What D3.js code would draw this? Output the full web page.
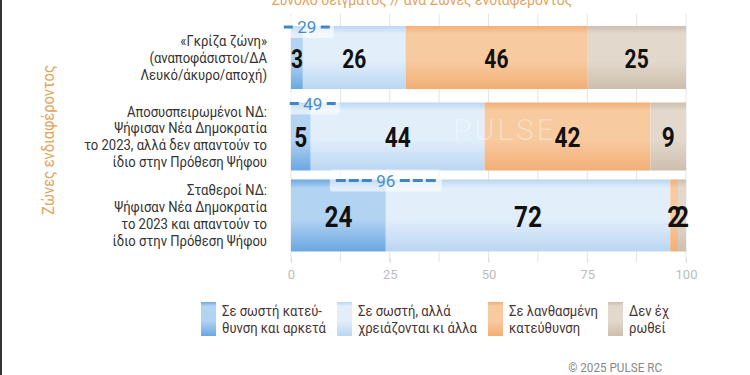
<!DOCTYPE html>
<html>
<head>
<meta charset="utf-8">
<script src="https://cdn.jsdelivr.net/npm/d3@7"></script>
<style>
  html, body { margin: 0; padding: 0; background: #fff; }
  svg { display: block; font-family: Roboto, "Noto Sans", sans-serif; }
</style>
</head>
<body>
<svg id="chart" width="750" height="375"></svg>
<script>
// Data
const categories = [
    ["«Γκρίζα ζώνη»", "(αναποφάσιστοι/ΔΑ", "Λευκό/άκυρο/αποχή)"],
    ["Αποσυσπειρωμένοι ΝΔ:", "Ψήφισαν Νέα Δημοκρατία", "το 2023, αλλά δεν απαντούν το", "ίδιο στην Πρόθεση Ψήφου"],
    ["Σταθεροί ΝΔ:", "Ψήφισαν Νέα Δημοκρατία", "το 2023 και απαντούν το", "ίδιο στην Πρόθεση Ψήφου"]
];
const sampleSizes = [29, 49, 96];
const rightEnough = [3, 5, 24];
const rightMore = [26, 44, 72];
const wrongWay = [46, 42, 2];
const dontKnow = [25, 9, 2];
const seriesNames = [
    ["Σε σωστή κατεύ-", "θυνση και αρκετά"],
    ["Σε σωστή, αλλά", "χρειάζονται κι άλλα"],
    ["Σε λανθασμένη", "κατεύθυνση"],
    ["Δεν έχ", "ρωθεί"]
];
const xTicks = [0, 25, 50, 75, 100];
const title = "Σύνολο δείγματος // ανά Ζώνες ενδιαφέροντος";
const yTitle = "Ζώνες ενδιαφέροντος";

const svg = d3.select("#chart");
const defs = svg.append("defs");

// gradient colours per series: [edge, middle]
const palette = [
    ["#6aa7e2", "#b3d3f2"],
    ["#bad6f2", "#e2eefa"],
    ["#f2ae76", "#f8caa0"],
    ["#cdbfae", "#e2d8cc"]
];
palette.forEach((c, i) => {
    const g = defs.append("linearGradient")
        .attr("id", "grad" + i)
        .attr("x1", 0).attr("y1", 0).attr("x2", 0).attr("y2", 1);
    g.append("stop").attr("offset", "0%").attr("stop-color", c[0]);
    g.append("stop").attr("offset", "12%").attr("stop-color", c[1]);
    g.append("stop").attr("offset", "55%").attr("stop-color", c[1]);
    g.append("stop").attr("offset", "100%").attr("stop-color", c[0]);
});

const x = d3.scaleLinear().domain([0, 100]).range([291, 686]);
const y = d3.scaleBand().domain(d3.range(categories.length)).range([22, 251]).paddingInner(0.1);
// bars grow a little from top row to bottom row, so do the numbers
const barH = [63, 68, 72];
const numSize = [25, 27, 29];
const rowTop = i => y(i) + (y.bandwidth() - barH[i]) / 2;
const rowMid = i => y(i) + y.bandwidth() / 2;

// narrow text helper: squeeze horizontally around the anchor point
function narrow(sel, px, py, k) {
    return sel.attr("transform", `translate(${px},${py}) scale(${k},1)`);
}

// left frame edge
svg.append("rect").attr("x", 0).attr("y", 0).attr("width", 2).attr("height", 375).attr("fill", "#333");

// title (cut at top)
svg.append("text")
    .attr("x", 422).attr("y", 5)
    .attr("text-anchor", "middle")
    .attr("font-size", 14)
    .attr("fill", "#e3a35c")
    .text(title);

// grid
svg.append("g").selectAll("line")
    .data(d3.range(0, 100.1, 12.5))
    .enter().append("line")
    .attr("x1", d => x(d)).attr("x2", d => x(d))
    .attr("y1", 14).attr("y2", 262)
    .attr("stroke", "#e4e4e4").attr("stroke-width", 1);

// axis
const axis = svg.append("g")
    .attr("transform", "translate(0,258)")
    .call(d3.axisBottom(x).tickValues(xTicks).tickSize(5).tickPadding(7));
axis.select(".domain").remove();
axis.selectAll("line").attr("stroke", "#dcdcdc");
axis.selectAll("text").attr("fill", "#bdbdbd").attr("font-size", 13).attr("font-family", "Roboto");

// stacked bars
const rows = categories.map((c, i) => [rightEnough[i], rightMore[i], wrongWay[i], dontKnow[i]]);
const segs = [];
rows.forEach((r, i) => {
    let acc = 0;
    r.forEach((v, s) => {
        segs.push({ row: i, s: s, x0: acc, x1: acc + v, v: v });
        acc += v;
    });
});

svg.append("g").selectAll("rect")
    .data(segs)
    .enter().append("rect")
    .attr("x", d => x(d.x0))
    .attr("y", d => rowTop(d.row))
    .attr("width", d => x(d.x1) - x(d.x0))
    .attr("height", d => barH[d.row])
    .attr("fill", d => `url(#grad${d.s})`);

// watermark
svg.append("text")
    .attr("x", 505).attr("y", 140)
    .attr("text-anchor", "middle")
    .attr("font-size", 30)
    .attr("font-weight", 300)
    .attr("letter-spacing", 3)
    .attr("fill", "#ffffff")
    .attr("fill-opacity", 0.35)
    .text("PULSE");

// value labels
const vals = svg.append("g");
segs.forEach(d => {
    narrow(vals.append("text"), x((d.x0 + d.x1) / 2), rowMid(d.row) + 1, 0.84)
        .attr("dy", "0.36em")
        .attr("text-anchor", "middle")
        .attr("font-weight", "bold")
        .attr("font-size", numSize[d.row])
        .attr("fill", "#111")
        .text(d.v);
});

// sample size markers
const markerAt = [4, 5.5, 24];
const markerLine = [9, 9, 38];
const nLabels = svg.append("g");
sampleSizes.forEach((n, i) => {
    const cx = x(markerAt[i]);
    const cy = rowTop(i) + 1;
    const half = 12, gap = 2, len = markerLine[i];
    const w = (half + gap + len) * 2 + 8;
    nLabels.append("rect")
        .attr("x", cx - w / 2).attr("y", cy - 11)
        .attr("width", w).attr("height", 22)
        .attr("rx", 3)
        .attr("fill", "#ffffff").attr("fill-opacity", 0.6);
    [-1, 1].forEach(sgn => {
        nLabels.append("line")
            .attr("x1", cx + sgn * (half + gap)).attr("x2", cx + sgn * (half + gap + len))
            .attr("y1", cy).attr("y2", cy)
            .attr("stroke", "#3f86c6").attr("stroke-width", 3)
            .attr("stroke-dasharray", len > 20 ? "10,3" : null);
    });
    nLabels.append("text")
        .attr("x", cx).attr("y", cy)
        .attr("dy", "0.36em")
        .attr("text-anchor", "middle")
        .attr("font-size", 17)
        .attr("fill", "#4a8cc9")
        .text(n);
});

// category labels
const catG = svg.append("g");
categories.forEach((lines, i) => {
    const lh = 16.8;
    lines.forEach((l, j) => {
        narrow(catG.append("text"), 267, rowMid(i) + (j - (lines.length - 1) / 2) * lh, 0.9)
            .attr("dy", "0.36em")
            .attr("text-anchor", "end")
            .attr("font-size", 14.5)
            .attr("fill", "#333")
            .text(l);
    });
});

// y title
svg.append("text")
    .attr("transform", "translate(48,140) rotate(-90) scale(0.92,1)")
    .attr("text-anchor", "middle")
    .attr("dy", "0.36em")
    .attr("font-size", 16)
    .attr("fill", "#e3a35c")
    .text(yTitle);

// legend
const legendX = [201, 337, 488, 608];
const leg = svg.append("g");
seriesNames.forEach((lines, i) => {
    leg.append("rect")
        .attr("x", legendX[i]).attr("y", 302)
        .attr("width", 15).attr("height", 34)
        .attr("fill", `url(#grad${i})`);
    lines.forEach((l, j) => {
        narrow(leg.append("text"), legendX[i] + 21, 311 + j * 17, 0.9)
            .attr("dy", "0.36em")
            .attr("font-size", 14.5)
            .attr("fill", "#4a3434")
            .text(l);
    });
});

// copyright
narrow(svg.append("text"), 662, 367, 0.9)
    .attr("dy", "0.36em")
    .attr("text-anchor", "end")
    .attr("font-size", 13)
    .attr("fill", "#888")
    .text("©  2025  PULSE RC");
</script>
</body>
</html>
